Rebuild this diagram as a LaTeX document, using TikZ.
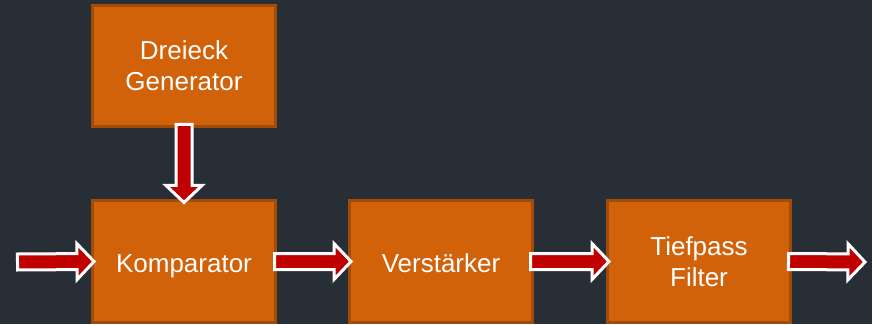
\documentclass[tikz,border=0pt]{standalone}
\usepackage{fontspec}
\setmainfont{Liberation Sans}
\usetikzlibrary{calc}
\definecolor{bg}{RGB}{40,46,54}
\definecolor{boxfill}{RGB}{210,98,10}
\definecolor{boxline}{RGB}{160,75,10}
\definecolor{arrowred}{RGB}{192,0,0}
\begin{document}
\begin{tikzpicture}[x=1pt,y=1pt,
  block/.style={rectangle, draw=boxline, fill=boxfill, line width=3pt,
    minimum width=183pt, minimum height=121pt, inner sep=0pt,
    text=white, align=center, font=\fontsize{26}{31}\selectfont},
  oneline/.style={text height=22pt, text depth=0pt},
  barrow/.style={draw=white, fill=arrowred, line width=3pt, line join=miter, miter limit=10,
    to path={let \p1=(\tikztostart), \p2=(\tikztotarget),
      \n1={atan2(\y2-\y1,\x2-\x1)}, \n2={veclen(\x2-\x1,\y2-\y1)}, \n3={\n2-17pt} in
      ($(\p1)+(\n1+90:8pt)$) -- ($(\p1)+(\n1:\n3)+(\n1+90:8pt)$)
      -- ($(\p1)+(\n1:\n3)+(\n1+90:18pt)$) -- (\p2)
      -- ($(\p1)+(\n1:\n3)+(\n1-90:18pt)$) -- ($(\p1)+(\n1:\n3)+(\n1-90:8pt)$)
      -- ($(\p1)+(\n1-90:8pt)$) -- cycle}}]
\useasboundingbox (0,0) rectangle (872,324);
\fill[bg] (0,0) rectangle (872,324);

% blocks
\node[block] (drei)  at (184,258) {Dreieck\\Generator};
\node[block, oneline] (komp)  at (184,62.5) {Komparator};
\node[block, oneline] (verst) at (441,62.5) {Verstärker};
\node[block] (tief)  at (699,62.5) {Tiefpass\\Filter};

% free ends of the input and output arrows
\coordinate (in)  at (17.5,62);
\coordinate (out) at (865,62);

% block arrows
\draw[barrow] (in) to ([xshift=3pt]komp.west);
\draw[barrow] ([xshift=-2.5pt]komp.east) to ([xshift=3pt]verst.west);
\draw[barrow] ([xshift=-3.5pt]verst.east) to ([xshift=3pt]tief.west);
\draw[barrow] ([xshift=-3.5pt]tief.east) to (out);
\draw[barrow] ([yshift=3.5pt]drei.south) to ([yshift=-3pt]komp.north);
\end{tikzpicture}
\end{document}
